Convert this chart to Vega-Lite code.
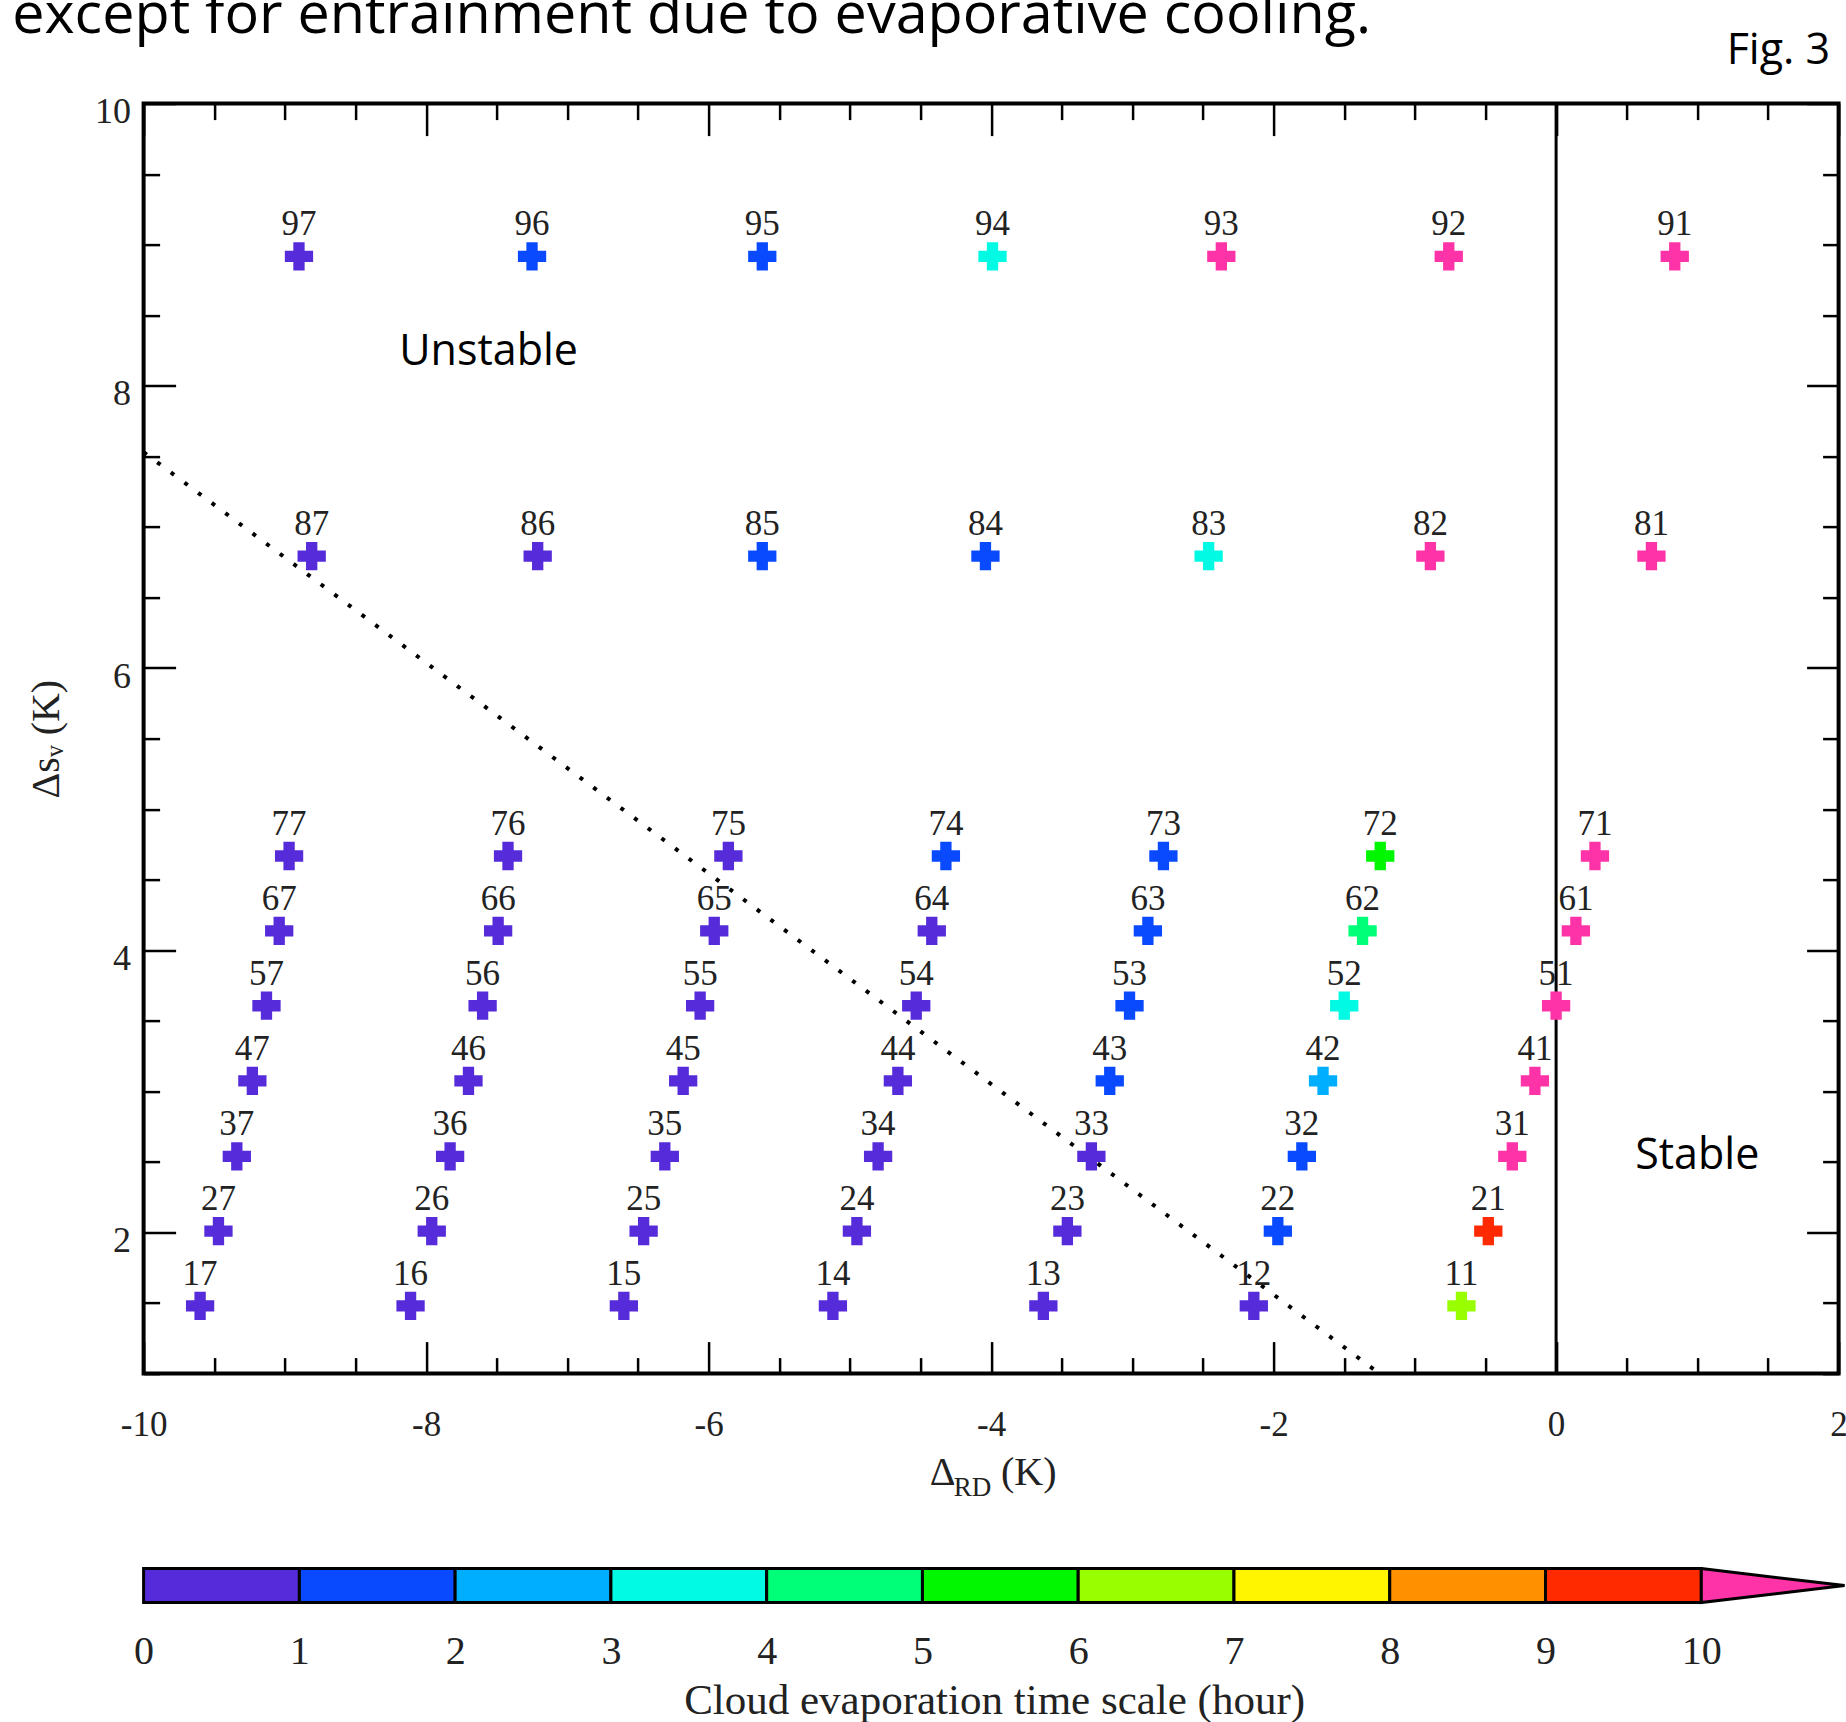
{
  "$schema": "https://vega.github.io/schema/vega-lite/v6.json",
  "autosize": {"type": "none"},
  "padding": {"left": 143.6, "top": 103.6, "right": 1702.4, "bottom": 1618.4},
  "background": "white",
  "spacing": 60,
  "config": {"axis": {"grid": false, "domain": false}},
  "datasets": {
    "points": [
      {"id": "17", "drd": -9.60, "dsv": 1.48, "bin": "0-1"},
      {"id": "16", "drd": -8.11, "dsv": 1.48, "bin": "0-1"},
      {"id": "15", "drd": -6.60, "dsv": 1.48, "bin": "0-1"},
      {"id": "14", "drd": -5.12, "dsv": 1.48, "bin": "0-1"},
      {"id": "13", "drd": -3.63, "dsv": 1.48, "bin": "0-1"},
      {"id": "12", "drd": -2.14, "dsv": 1.48, "bin": "0-1"},
      {"id": "11", "drd": -0.67, "dsv": 1.48, "bin": "6-7"},
      {"id": "27", "drd": -9.47, "dsv": 2.01, "bin": "0-1"},
      {"id": "26", "drd": -7.96, "dsv": 2.01, "bin": "0-1"},
      {"id": "25", "drd": -6.46, "dsv": 2.01, "bin": "0-1"},
      {"id": "24", "drd": -4.95, "dsv": 2.01, "bin": "0-1"},
      {"id": "23", "drd": -3.46, "dsv": 2.01, "bin": "0-1"},
      {"id": "22", "drd": -1.97, "dsv": 2.01, "bin": "1-2"},
      {"id": "21", "drd": -0.48, "dsv": 2.01, "bin": "9-10"},
      {"id": "37", "drd": -9.34, "dsv": 2.54, "bin": "0-1"},
      {"id": "36", "drd": -7.83, "dsv": 2.54, "bin": "0-1"},
      {"id": "35", "drd": -6.31, "dsv": 2.54, "bin": "0-1"},
      {"id": "34", "drd": -4.80, "dsv": 2.54, "bin": "0-1"},
      {"id": "33", "drd": -3.29, "dsv": 2.54, "bin": "0-1"},
      {"id": "32", "drd": -1.80, "dsv": 2.54, "bin": "1-2"},
      {"id": "31", "drd": -0.31, "dsv": 2.54, "bin": ">10"},
      {"id": "47", "drd": -9.23, "dsv": 3.075, "bin": "0-1"},
      {"id": "46", "drd": -7.70, "dsv": 3.075, "bin": "0-1"},
      {"id": "45", "drd": -6.18, "dsv": 3.075, "bin": "0-1"},
      {"id": "44", "drd": -4.66, "dsv": 3.075, "bin": "0-1"},
      {"id": "43", "drd": -3.16, "dsv": 3.075, "bin": "1-2"},
      {"id": "42", "drd": -1.65, "dsv": 3.075, "bin": "2-3"},
      {"id": "41", "drd": -0.15, "dsv": 3.075, "bin": ">10"},
      {"id": "57", "drd": -9.13, "dsv": 3.607, "bin": "0-1"},
      {"id": "56", "drd": -7.60, "dsv": 3.607, "bin": "0-1"},
      {"id": "55", "drd": -6.06, "dsv": 3.607, "bin": "0-1"},
      {"id": "54", "drd": -4.53, "dsv": 3.607, "bin": "0-1"},
      {"id": "53", "drd": -3.02, "dsv": 3.607, "bin": "1-2"},
      {"id": "52", "drd": -1.50, "dsv": 3.607, "bin": "3-4"},
      {"id": "51", "drd": 0.00, "dsv": 3.607, "bin": ">10"},
      {"id": "67", "drd": -9.04, "dsv": 4.137, "bin": "0-1"},
      {"id": "66", "drd": -7.49, "dsv": 4.137, "bin": "0-1"},
      {"id": "65", "drd": -5.96, "dsv": 4.137, "bin": "0-1"},
      {"id": "64", "drd": -4.42, "dsv": 4.137, "bin": "0-1"},
      {"id": "63", "drd": -2.89, "dsv": 4.137, "bin": "1-2"},
      {"id": "62", "drd": -1.37, "dsv": 4.137, "bin": "4-5"},
      {"id": "61", "drd": 0.14, "dsv": 4.137, "bin": ">10"},
      {"id": "77", "drd": -8.97, "dsv": 4.668, "bin": "0-1"},
      {"id": "76", "drd": -7.42, "dsv": 4.668, "bin": "0-1"},
      {"id": "75", "drd": -5.86, "dsv": 4.668, "bin": "0-1"},
      {"id": "74", "drd": -4.32, "dsv": 4.668, "bin": "1-2"},
      {"id": "73", "drd": -2.78, "dsv": 4.668, "bin": "1-2"},
      {"id": "72", "drd": -1.245, "dsv": 4.668, "bin": "5-6"},
      {"id": "71", "drd": 0.275, "dsv": 4.668, "bin": ">10"},
      {"id": "87", "drd": -8.81, "dsv": 6.793, "bin": "0-1"},
      {"id": "86", "drd": -7.21, "dsv": 6.793, "bin": "0-1"},
      {"id": "85", "drd": -5.62, "dsv": 6.793, "bin": "1-2"},
      {"id": "84", "drd": -4.04, "dsv": 6.793, "bin": "1-2"},
      {"id": "83", "drd": -2.46, "dsv": 6.793, "bin": "3-4"},
      {"id": "82", "drd": -0.89, "dsv": 6.793, "bin": ">10"},
      {"id": "81", "drd": 0.675, "dsv": 6.793, "bin": ">10"},
      {"id": "97", "drd": -8.90, "dsv": 8.918, "bin": "0-1"},
      {"id": "96", "drd": -7.25, "dsv": 8.918, "bin": "1-2"},
      {"id": "95", "drd": -5.62, "dsv": 8.918, "bin": "1-2"},
      {"id": "94", "drd": -3.99, "dsv": 8.918, "bin": "3-4"},
      {"id": "93", "drd": -2.37, "dsv": 8.918, "bin": ">10"},
      {"id": "92", "drd": -0.76, "dsv": 8.918, "bin": ">10"},
      {"id": "91", "drd": 0.84, "dsv": 8.918, "bin": ">10"}
    ],
    "boundary": [{"drd": -10, "dsv": 7.53}, {"drd": -1.25, "dsv": 1}],
    "stable_edge": [{"drd": 0}],
    "regions": [
      {"label": "Unstable", "drd": -8.19, "dsv": 8.15},
      {"label": "Stable", "drd": 0.56, "dsv": 2.45}
    ],
    "caption": [{"text": "except for entrainment due to evaporative cooling.", "drd": -10.93, "dsv": 10.497}],
    "figlabel": [{"text": "Fig. 3", "drd": 1.94, "dsv": 10.28}],
    "xtitle": [
      {"part": "Δ", "drd": -4.435, "dsv": 0.214},
      {"part": "(K)", "drd": -3.93, "dsv": 0.214}
    ],
    "xtitle_sub": [{"part": "RD", "drd": -4.264, "dsv": 0.136}],
    "colorbar": [
      {"bin": "0-1", "lo": 0, "hi": 1},
      {"bin": "1-2", "lo": 1, "hi": 2},
      {"bin": "2-3", "lo": 2, "hi": 3},
      {"bin": "3-4", "lo": 3, "hi": 4},
      {"bin": "4-5", "lo": 4, "hi": 5},
      {"bin": "5-6", "lo": 5, "hi": 6},
      {"bin": "6-7", "lo": 6, "hi": 7},
      {"bin": "7-8", "lo": 7, "hi": 8},
      {"bin": "8-9", "lo": 8, "hi": 9},
      {"bin": "9-10", "lo": 9, "hi": 10}
    ],
    "arrow": [
      {"x": 10, "top": 1, "bottom": 0},
      {"x": 10.92, "top": 0.5, "bottom": 0.5}
    ]
  },
  "vconcat": [
    {
      "width": 1695,
      "height": 1270,
      "view": {"stroke": "black", "strokeWidth": 4},
      "resolve": {"axis": {"x": "independent", "y": "independent"}},
      "layer": [
        {
          "data": {"name": "boundary"},
          "mark": {"type": "line", "color": "black", "strokeWidth": 4, "strokeDash": [4, 13]},
          "encoding": {
            "x": {"field": "drd", "type": "quantitative", "scale": {"domain": [-10, 2], "nice": false, "zero": false}, "axis": null},
            "y": {"field": "dsv", "type": "quantitative", "scale": {"domain": [1, 10], "nice": false, "zero": false}, "axis": null}
          }
        },
        {
          "data": {"name": "stable_edge"},
          "mark": {"type": "rule", "color": "black", "strokeWidth": 3},
          "encoding": {
            "x": {"field": "drd", "type": "quantitative", "scale": {"domain": [-10, 2], "nice": false, "zero": false}, "axis": null}
          }
        },
        {
          "data": {"name": "points"},
          "mark": {"type": "point", "shape": "cross", "filled": true, "size": 800, "opacity": 1, "strokeWidth": 0},
          "encoding": {
            "x": {"field": "drd", "type": "quantitative", "scale": {"domain": [-10, 2], "nice": false, "zero": false},
              "axis": {"orient": "bottom", "values": [-10,-9.5,-9,-8.5,-8,-7.5,-7,-6.5,-6,-5.5,-5,-4.5,-4,-3.5,-3,-2.5,-2,-1.5,-1,-0.5,0,0.5,1,1.5,2],
                "labelExpr": "datum.value % 2 === 0 ? '' + datum.value : ''",
                "tickSize": -32, "tickWidth": 2.5, "tickColor": "black",
                "tickDash": {"condition": {"test": "datum.value % 2 !== 0", "value": [16, 200]}, "value": [100, 0]},
                "labelPadding": 66, "labelFont": "Liberation Serif", "labelFontSize": 35, "labelColor": "#222",
                "labelFlush": false, "labelOverlap": false, "domain": false, "grid": false, "title": null}},
            "y": {"field": "dsv", "type": "quantitative", "scale": {"domain": [1, 10], "nice": false, "zero": false},
              "axis": {"orient": "left", "values": [1,1.5,2,2.5,3,3.5,4,4.5,5,5.5,6,6.5,7,7.5,8,8.5,9,9.5,10],
                "labelExpr": "datum.value % 2 === 0 ? '' + datum.value : ''",
                "tickSize": -32, "tickWidth": 2.5, "tickColor": "black",
                "tickDash": {"condition": {"test": "datum.value % 2 !== 0", "value": [16, 200]}, "value": [100, 0]},
                "labelPadding": 45, "labelBaseline": "middle", "labelOffset": 8,
                "labelFont": "Liberation Serif", "labelFontSize": 36, "labelColor": "#222",
                "labelFlush": false, "labelOverlap": false, "domain": false, "grid": false,
                "title": "Δsᵥ (K)", "titleFont": "Liberation Serif", "titleFontSize": 40, "titleFontWeight": "normal", "titleColor": "#222", "titlePadding": 28}},
            "color": {"field": "bin", "type": "nominal",
              "scale": {"domain": ["0-1","1-2","2-3","3-4","4-5","5-6","6-7","7-8","8-9","9-10",">10"],
                "range": ["#562bd9","#0a4aff","#00aeff","#00fae4","#00ff78","#00f700","#99ff00","#fff500","#ff9000","#ff2a00","#ff33a8"]},
              "legend": null}
          }
        },
        {
          "data": {"name": "points"},
          "mark": {"type": "text", "font": "Liberation Serif", "fontSize": 35, "color": "#222", "baseline": "alphabetic", "align": "center", "dy": -21},
          "encoding": {
            "x": {"field": "drd", "type": "quantitative", "scale": {"domain": [-10, 2], "nice": false, "zero": false},
              "axis": {"orient": "top", "values": [-10,-9.5,-9,-8.5,-8,-7.5,-7,-6.5,-6,-5.5,-5,-4.5,-4,-3.5,-3,-2.5,-2,-1.5,-1,-0.5,0,0.5,1,1.5,2],
                "labels": false, "tickSize": -32, "tickWidth": 2.5, "tickColor": "black",
                "tickDash": {"condition": {"test": "datum.value % 2 !== 0", "value": [16, 200]}, "value": [100, 0]},
                "domain": false, "grid": false, "title": null}},
            "y": {"field": "dsv", "type": "quantitative", "scale": {"domain": [1, 10], "nice": false, "zero": false},
              "axis": {"orient": "right", "values": [1,1.5,2,2.5,3,3.5,4,4.5,5,5.5,6,6.5,7,7.5,8,8.5,9,9.5,10],
                "labels": false, "tickSize": -32, "tickWidth": 2.5, "tickColor": "black",
                "tickDash": {"condition": {"test": "datum.value % 2 !== 0", "value": [16, 200]}, "value": [100, 0]},
                "domain": false, "grid": false, "title": null}},
            "text": {"field": "id"}
          }
        },
        {
          "data": {"name": "regions"},
          "mark": {"type": "text", "font": "Open Sans", "fontSize": 43, "align": "left", "baseline": "alphabetic", "color": "black"},
          "encoding": {
            "x": {"field": "drd", "type": "quantitative", "scale": {"domain": [-10, 2], "nice": false, "zero": false}, "axis": null},
            "y": {"field": "dsv", "type": "quantitative", "scale": {"domain": [1, 10], "nice": false, "zero": false}, "axis": null},
            "text": {"field": "label"}
          }
        },
        {
          "data": {"name": "caption"},
          "mark": {"type": "text", "font": "Open Sans", "fontSize": 57.5, "align": "left", "baseline": "alphabetic", "color": "black"},
          "encoding": {
            "x": {"field": "drd", "type": "quantitative", "scale": {"domain": [-10, 2], "nice": false, "zero": false}, "axis": null},
            "y": {"field": "dsv", "type": "quantitative", "scale": {"domain": [1, 10], "nice": false, "zero": false}, "axis": null},
            "text": {"field": "text"}
          }
        },
        {
          "data": {"name": "figlabel"},
          "mark": {"type": "text", "font": "Open Sans", "fontSize": 43, "align": "right", "baseline": "alphabetic", "color": "black"},
          "encoding": {
            "x": {"field": "drd", "type": "quantitative", "scale": {"domain": [-10, 2], "nice": false, "zero": false}, "axis": null},
            "y": {"field": "dsv", "type": "quantitative", "scale": {"domain": [1, 10], "nice": false, "zero": false}, "axis": null},
            "text": {"field": "text"}
          }
        },
        {
          "data": {"name": "xtitle"},
          "mark": {"type": "text", "font": "Liberation Serif", "fontSize": 40, "align": "left", "baseline": "alphabetic", "color": "#222"},
          "encoding": {
            "x": {"field": "drd", "type": "quantitative", "scale": {"domain": [-10, 2], "nice": false, "zero": false}, "axis": null},
            "y": {"field": "dsv", "type": "quantitative", "scale": {"domain": [1, 10], "nice": false, "zero": false}, "axis": null},
            "text": {"field": "part"}
          }
        },
        {
          "data": {"name": "xtitle_sub"},
          "mark": {"type": "text", "font": "Liberation Serif", "fontSize": 27, "align": "left", "baseline": "alphabetic", "color": "#222"},
          "encoding": {
            "x": {"field": "drd", "type": "quantitative", "scale": {"domain": [-10, 2], "nice": false, "zero": false}, "axis": null},
            "y": {"field": "dsv", "type": "quantitative", "scale": {"domain": [1, 10], "nice": false, "zero": false}, "axis": null},
            "text": {"field": "part"}
          }
        }
      ]
    },
    {
      "width": 1701,
      "height": 34,
      "view": {"stroke": null},
      "resolve": {"axis": {"x": "independent", "y": "independent"}},
      "layer": [
        {
          "data": {"name": "colorbar"},
          "mark": {"type": "rect", "stroke": "black", "strokeWidth": 3},
          "encoding": {
            "x": {"field": "lo", "type": "quantitative", "scale": {"domain": [0, 10.92], "nice": false, "zero": false},
              "axis": {"orient": "bottom", "values": [0,1,2,3,4,5,6,7,8,9,10], "ticks": false, "domain": false, "grid": false,
                "labelPadding": 29, "labelFont": "Liberation Serif", "labelFontSize": 40, "labelColor": "#222", "labelFlush": false,
                "title": "Cloud evaporation time scale (hour)", "titleFont": "Liberation Serif", "titleFontSize": 43,
                "titleFontWeight": "normal", "titleColor": "#222", "titlePadding": 8}},
            "x2": {"field": "hi"},
            "color": {"field": "bin", "type": "nominal",
              "scale": {"domain": ["0-1","1-2","2-3","3-4","4-5","5-6","6-7","7-8","8-9","9-10",">10"],
                "range": ["#562bd9","#0a4aff","#00aeff","#00fae4","#00ff78","#00f700","#99ff00","#fff500","#ff9000","#ff2a00","#ff33a8"]},
              "legend": null}
          }
        },
        {
          "data": {"name": "arrow"},
          "mark": {"type": "area", "stroke": "black", "strokeWidth": 3, "fill": "#ff33a8", "opacity": 1},
          "encoding": {
            "x": {"field": "x", "type": "quantitative", "scale": {"domain": [0, 10.92], "nice": false, "zero": false}, "axis": null},
            "y": {"field": "top", "type": "quantitative", "scale": {"domain": [0, 1], "nice": false, "zero": false}, "axis": null},
            "y2": {"field": "bottom"}
          }
        }
      ]
    }
  ]
}
